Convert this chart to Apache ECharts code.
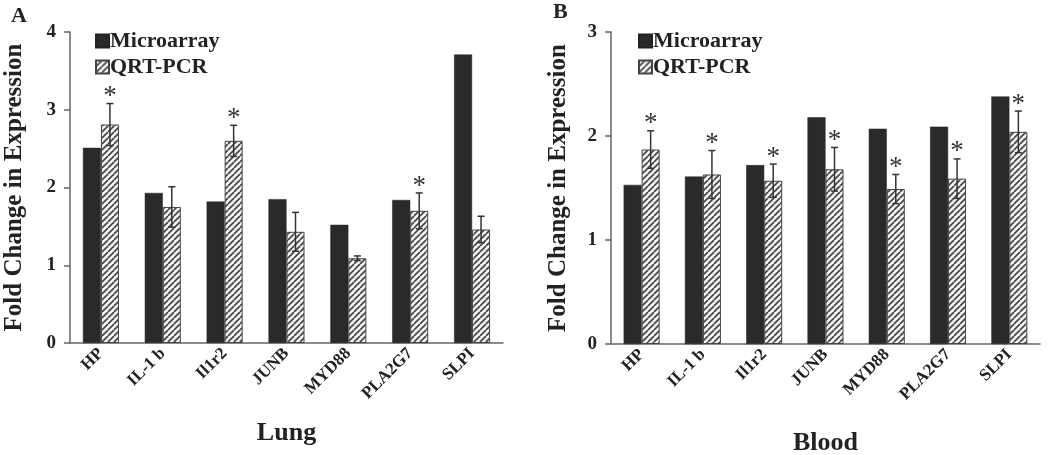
<!DOCTYPE html>
<html><head><meta charset="utf-8">
<script src="https://cdn.jsdelivr.net/npm/echarts@6/dist/echarts.min.js"></script>
<style>html,body{margin:0;padding:0;background:#fff}#c{width:1050px;height:455px}</style>
</head><body><div id="c"></div>
<script>
const categories = ['HP', 'IL-1 b', 'Il1r2', 'JUNB', 'MYD88', 'PLA2G7', 'SLPI'];
const lungMicro = [2.51, 1.93, 1.82, 1.85, 1.52, 1.84, 3.71];
const lungQrt = [2.81, 1.75, 2.60, 1.43, 1.09, 1.70, 1.46];
const lungErr = [0.27, 0.26, 0.20, 0.25, 0.03, 0.23, 0.17];
const lungSig = [1, 0, 1, 0, 0, 1, 0];
const bloodMicro = [1.53, 1.61, 1.72, 2.18, 2.07, 2.09, 2.38];
const bloodQrt = [1.87, 1.63, 1.57, 1.68, 1.49, 1.59, 2.04];
const bloodErr = [0.18, 0.23, 0.16, 0.21, 0.14, 0.19, 0.20];
const bloodSig = [1, 1, 1, 1, 1, 1, 1];
const lungTicks = [0, 1, 2, 3, 4];
const bloodTicks = [0, 1, 2, 3];

const FONT = 'Liberation Serif';
const BAR_W = 18;

function hatch() {
  const s = 6, cv = document.createElement('canvas');
  cv.width = s; cv.height = s;
  const g = cv.getContext('2d');
  g.fillStyle = '#f6f6f6'; g.fillRect(0, 0, s, s);
  g.strokeStyle = '#444'; g.lineWidth = 1.7;
  [[-s, 0], [0, 0], [s, 0]].forEach(([ox]) => {
    g.beginPath(); g.moveTo(ox, s); g.lineTo(ox + s, 0); g.stroke();
  });
  return cv;
}
const pattern = { image: hatch(), repeat: 'repeat' };

function errSeries(idx, vals, errs, sig) {
  return {
    type: 'custom', xAxisIndex: idx, yAxisIndex: idx, z: 5, silent: true,
    data: vals.map((v, i) => [i, v, errs[i], sig[i]]),
    renderItem: function (params, api) {
      const i = api.value(0), v = api.value(1), e = api.value(2), s = api.value(3);
      const x = api.coord([i, v])[0] + BAR_W / 2;
      const yt = api.coord([i, v + e])[1];
      const yb = api.coord([i, v - e])[1];
      const st = { stroke: '#333', lineWidth: 1.5 };
      const ch = [
        { type: 'line', shape: { x1: x, y1: yt, x2: x, y2: yb }, style: st },
        { type: 'line', shape: { x1: x - 3.5, y1: yt, x2: x + 3.5, y2: yt }, style: st },
        { type: 'line', shape: { x1: x - 3.5, y1: yb, x2: x + 3.5, y2: yb }, style: st }
      ];
      if (s) ch.push({ type: 'text', style: { text: '*', x: x, y: yt + 7, align: 'center', verticalAlign: 'bottom', font: '27px "' + FONT + '"', fill: '#333' } });
      return { type: 'group', children: ch };
    }
  };
}

function xAx(idx, name, gap) {
  return {
    type: 'category', gridIndex: idx, data: categories,
    name: name, nameLocation: 'middle', nameGap: gap,
    nameTextStyle: { fontFamily: FONT, fontWeight: 'bold', fontSize: 26, color: '#222' },
    axisLine: { lineStyle: { color: '#666', width: 1.5 } },
    axisTick: { length: 6, lineStyle: { color: '#666', width: 1.5 } },
    axisLabel: { rotate: 45, margin: 8, fontFamily: FONT, fontWeight: 'bold', fontSize: 17, color: '#222', interval: 0 }
  };
}
function yAx(idx, ticks, gap) {
  return {
    type: 'value', gridIndex: idx, min: ticks[0], max: ticks[ticks.length - 1], interval: 1,
    name: 'Fold Change in Expression', nameLocation: 'middle', nameGap: gap,
    nameTextStyle: { fontFamily: FONT, fontWeight: 'bold', fontSize: 25, color: '#222' },
    axisLine: { show: true, lineStyle: { color: '#666', width: 1.5 } },
    axisTick: { show: true, length: 6, lineStyle: { color: '#666', width: 1.5 } },
    splitLine: { show: false },
    axisLabel: { margin: 14, fontFamily: FONT, fontWeight: 'bold', fontSize: 19, color: '#222' }
  };
}
function bars(idx, micro, qrt) {
  return [
    { name: 'Microarray', type: 'bar', xAxisIndex: idx, yAxisIndex: idx, data: micro, barWidth: BAR_W, barGap: '0%',
      itemStyle: { color: '#2a2a2a', borderColor: '#222', borderWidth: 0.5 } },
    { name: 'QRT-PCR', type: 'bar', xAxisIndex: idx, yAxisIndex: idx, data: qrt, barWidth: BAR_W, barGap: '0%',
      itemStyle: { color: pattern, borderColor: '#444', borderWidth: 1 } }
  ];
}
function leg(left) {
  return {
    left: left, top: 25, orient: 'vertical', itemWidth: 13, itemHeight: 13, itemGap: 4,
    icon: 'rect', data: ['Microarray', 'QRT-PCR'], selectedMode: false,
    textStyle: { fontFamily: FONT, fontWeight: 'bold', fontSize: 22, color: '#222', padding: [0, 0, 0, -4] }
  };
}

const chart = echarts.init(document.getElementById('c'), null, { renderer: 'canvas' });
chart.setOption({
  animation: false,
  title: [
    { text: 'A', left: 6, top: 0, textStyle: { fontFamily: FONT, fontWeight: 'bold', fontSize: 22, color: '#222' } },
    { text: 'B', left: 548, top: -4, textStyle: { fontFamily: FONT, fontWeight: 'bold', fontSize: 22, color: '#222' } }
  ],
  legend: [leg(90), leg(633)],
  grid: [
    { left: 70, top: 32, width: 433, height: 311, outerBoundsMode: 'none', containLabel: false },
    { left: 611, top: 32, width: 429, height: 312, outerBoundsMode: 'none', containLabel: false }
  ],
  xAxis: [xAx(0, 'Lung', 77), xAx(1, 'Blood', 86)],
  yAxis: [yAx(0, lungTicks, 43), yAx(1, bloodTicks, 40)],
  series: [].concat(bars(0, lungMicro, lungQrt), bars(1, bloodMicro, bloodQrt),
    [errSeries(0, lungQrt, lungErr, lungSig), errSeries(1, bloodQrt, bloodErr, bloodSig)])
});
</script></body></html>
